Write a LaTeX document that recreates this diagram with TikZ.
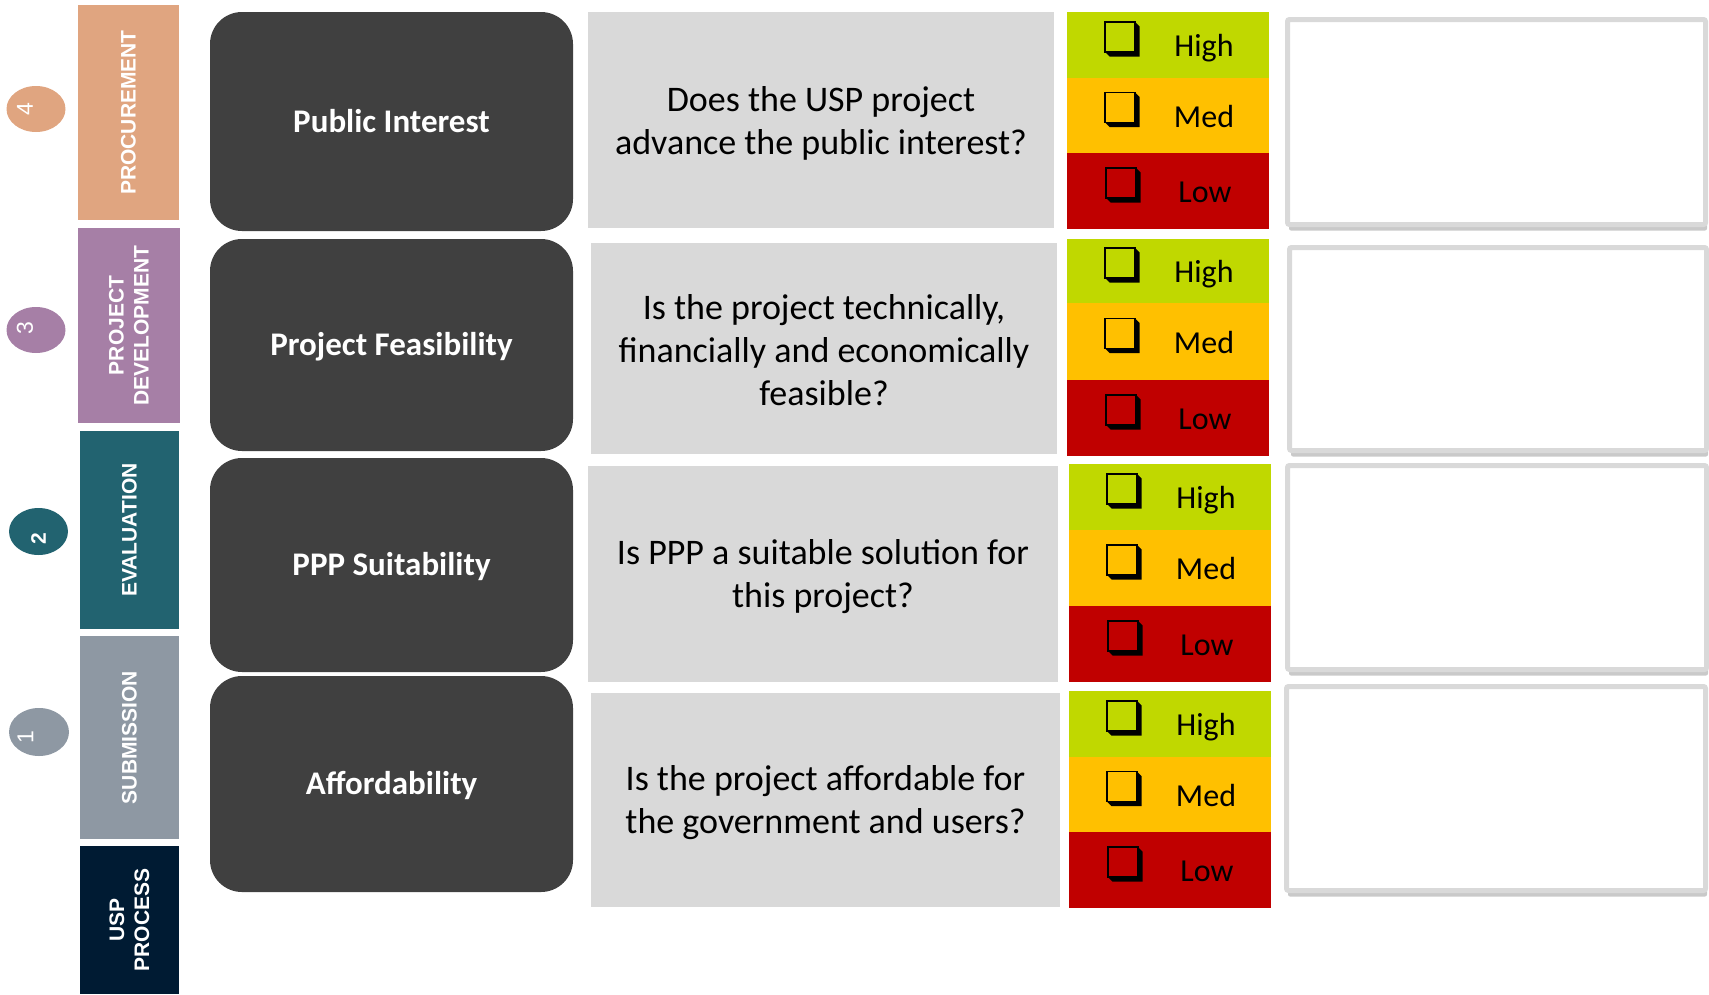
\documentclass[tikz,border=0pt]{standalone}
\usepackage{fontspec}
\setmainfont{Carlito}
\newfontfamily\arialfont{Liberation Sans}
\usetikzlibrary{shapes.geometric,shadows}
\definecolor{procol}{RGB}{224,165,128}
\definecolor{devcol}{RGB}{166,127,166}
\definecolor{evalcol}{RGB}{34,99,112}
\definecolor{subcol}{RGB}{142,152,163}
\definecolor{uspcol}{RGB}{0,27,51}
\definecolor{darkbox}{RGB}{64,64,64}
\definecolor{qgrey}{RGB}{217,217,217}
\definecolor{hicol}{RGB}{192,216,0}
\definecolor{medcol}{RGB}{255,192,0}
\definecolor{lowcol}{RGB}{192,0,0}
\definecolor{frame}{RGB}{217,217,217}
\tikzset{chkbox/.pic={
  \fill (13,-17) -- (17.5,-12.5) -- (17.5,17.5) -- (-12.5,17.5) -- (-17,13) -- (13,13) -- cycle;
  \draw[line width=1.3pt] (-17,-17) rectangle (13,13);
}}

\begin{document}
\begin{tikzpicture}[x=1pt,y=-1pt,
  stage/.style={rotate=90,inner sep=0pt,text=white,align=center,font=\arialfont\bfseries\fontsize{21}{25}\selectfont},
  dot/.style={ellipse,inner sep=0pt,minimum width=59pt,minimum height=46pt},
  num/.style={rotate=90,text=white,inner sep=0pt,font=\arialfont\fontsize{23}{23}\selectfont},
  crit/.style={rounded corners=32pt,fill=darkbox,text=white,inner sep=0pt,minimum width=363pt,
    text height=21pt,text depth=0pt,font=\bfseries\fontsize{33}{40}\selectfont},
  quest/.style={fill=qgrey,inner sep=0pt},
  qtext/.style={inner sep=0pt,align=center,font=\fontsize{36}{43}\selectfont},
  rate/.style={anchor=base,inner sep=0pt,font=\fontsize{32}{38}\selectfont},
  note/.style={draw=frame,line width=5pt,fill=white,rounded corners=2pt,inner sep=0pt,
    drop shadow={shadow xshift=1.5pt,shadow yshift=-6pt,opacity=0.3,fill=black!70}}]
\useasboundingbox (0,0) rectangle (1709,994);
% process column
\node[stage,fill=procol,minimum width=215pt,minimum height=101pt] (proc) at (128.5,112.5) {PROCUREMENT};
\node[stage,fill=devcol,minimum width=195pt,minimum height=102pt] (dev) at (129,325.5) {PROJECT\\DEVELOPMENT};
\node[stage,fill=evalcol,minimum width=198pt,minimum height=99pt] (eval) at (129.5,530) {EVALUATION};
\node[stage,fill=subcol,minimum width=203pt,minimum height=99pt] (subm) at (129.5,737.5) {SUBMISSION};
\node[stage,fill=uspcol,minimum width=148pt,minimum height=99pt] (usp) at (129.5,920) {USP\\PROCESS};
\node[dot,fill=procol] (c4) at (36,109) {};
\node[num] (n4) at (25,109) {4};
\node[dot,fill=devcol] (c3) at (36,330) {};
\node[num] (n3) at (25,328) {3};
\node[dot,fill=evalcol,minimum height=47pt] (c2) at (38.5,531.5) {};
\node[num,font=\arialfont\bfseries\fontsize{21}{21}\selectfont] (n2) at (38.5,539) {2};
\node[dot,fill=subcol,minimum width=60pt,minimum height=48pt] (c1) at (39,732) {};
\node[num] (n1) at (25.5,737.5) {1};
% criteria
\node[crit,minimum height=219pt] (pub) at (391.5,121.5) {Public Interest};
\node[crit,minimum height=212pt] (feas) at (391.5,345) {Project Feasibility};
\node[crit,minimum height=214pt] (ppp) at (391.5,565) {PPP Suitability};
\node[crit,minimum height=216pt] (aff) at (391.5,784) {Affordability};
% questions
\node[quest,minimum width=466pt,minimum height=216pt] (q1) at (821,120) {};
\node[quest,minimum width=466pt,minimum height=211pt] (q2) at (824,348.5) {};
\node[quest,minimum width=470pt,minimum height=216pt] (q3) at (823,574) {};
\node[quest,minimum width=469pt,minimum height=214pt] (q4) at (825.5,800) {};
\node[qtext] (q1t) at ([yshift=-3pt]q1.center) {Does the USP project\\advance the public interest?};
\node[qtext] (q2t) at ([yshift=-2pt]q2.center) {Is the project technically,\\financially and economically\\feasible?};
\node[qtext] (q3t) at ([yshift=-3pt]q3.center) {Is PPP a suitable solution for\\this project?};
\node[qtext] (q4t) at ([yshift=-3pt]q4.center) {Is the project affordable for\\the government and users?};
% ratings
\foreach \n/\xa/\ga/\oa/\ra/\rb in {1/1067/12/78/153/229,2/1067/239/303/380/456,3/1069/464/530/606/682,4/1069/691/757/832/908}{
  \fill[hicol] (\xa,\ga) rectangle (\xa+202,\oa);
  \fill[medcol] (\xa,\oa) rectangle (\xa+202,\ra);
  \fill[lowcol] (\xa,\ra) rectangle (\xa+202,\rb);
  \pic at (\xa+55,{(\ga+\oa)/2-6}) {chkbox};
  \pic at (\xa+55,{(\oa+\ra)/2-6}) {chkbox};
  \pic at (\xa+56,{(\ra+\rb)/2-6}) {chkbox};
  \node[rate] (high\n) at (\xa+137,{(\ga+\oa)/2+11.5}) {High};
  \node[rate] (med\n) at (\xa+137,{(\oa+\ra)/2+11.5}) {Med};
  \node[rate] (low\n) at (\xa+138,{(\ra+\rb)/2+11.5}) {Low};
}
% answer boxes
\node[note,minimum width=418pt,minimum height=205pt] (ans1) at (1496.5,122) {};
\node[note,minimum width=417pt,minimum height=203pt] (ans2) at (1498,349) {};
\node[note,minimum width=419pt,minimum height=204pt] (ans3) at (1497,567.5) {};
\node[note,minimum width=419pt,minimum height=204pt] (ans4) at (1496,788.5) {};
\end{tikzpicture}
\end{document}
